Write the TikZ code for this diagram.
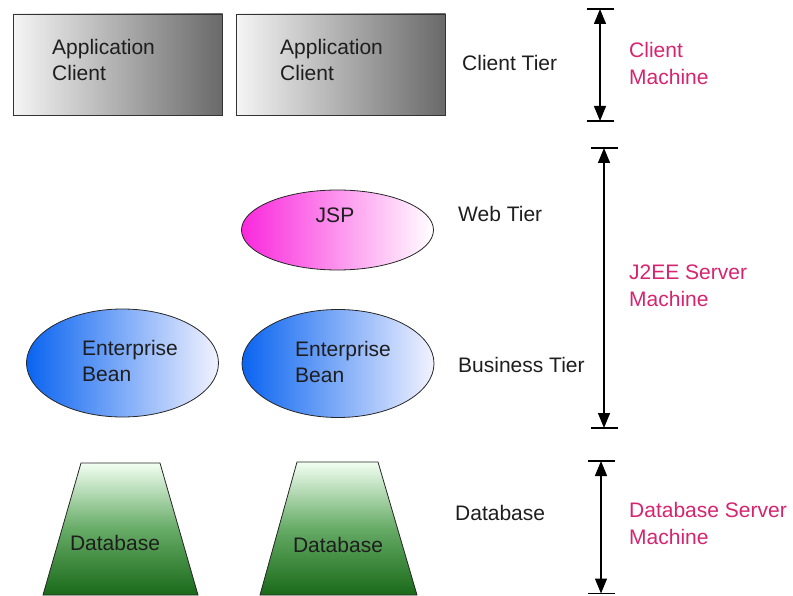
\documentclass[tikz,border=0pt]{standalone}
\usepackage{fontspec}
\setmainfont{Liberation Sans}
\usetikzlibrary{shapes.geometric,arrows.meta}
\definecolor{txt}{RGB}{30,30,30}
\definecolor{machine}{RGB}{214,36,110}
\definecolor{boxdark}{RGB}{105,105,105}
\definecolor{jspmag}{RGB}{250,40,220}
\definecolor{beanblue}{RGB}{10,100,240}
\definecolor{dbgreen}{RGB}{25,105,25}
\tikzset{
  txtfont/.style={font=\fontsize{21}{26}\selectfont, text=txt},
  clientbox/.style={draw=black!80, line width=0.8pt, rectangle, minimum height=101pt,
    minimum width=209pt, left color=white!96!black, right color=boxdark},
  inlabel/.style={anchor=west, inner sep=0pt, align=left, txtfont},
  jspshape/.style={draw=black!85, line width=0.8pt, ellipse, minimum width=192pt,
    minimum height=80pt, left color=jspmag, right color=white},
  beanshape/.style={draw=black!85, line width=0.8pt, ellipse, minimum width=192pt,
    minimum height=108pt, left color=beanblue, right color=white!95!blue},
  dbshape/.style={draw=black!85, line width=0.8pt, top color=white!95!green, bottom color=dbgreen,
    middle color=green!45!black!60!white},
  tierlabel/.style={anchor=west, inner sep=0pt, txtfont},
  machinelabel/.style={anchor=west, inner sep=0pt, align=left,
    font=\fontsize{21}{27}\selectfont, text=machine},
  span/.style={line width=1.3pt, {Triangle[width=12pt,length=15pt]}-{Triangle[width=12pt,length=15pt]}},
  bar/.style={line width=1.3pt},
}
\begin{document}
\begin{tikzpicture}[x=1pt,y=-1pt]
\useasboundingbox (0,0) rectangle (793,596);

% client tier
\node[clientbox] (app1) at (118,64.5) {};
\node[inlabel] (app1t) at (52,60) {Application\\Client};
\node[clientbox] (app2) at (341,64.5) {};
\node[inlabel] (app2t) at (280,60) {Application\\Client};

% web tier
\node[jspshape] (jsp) at (337.5,230) {};
\node[txtfont, inner sep=0pt] (jspt) at (335,215) {JSP};

% business tier
\node[beanshape] (bean1) at (122.5,363) {};
\node[inlabel] (bean1t) at (82,361) {Enterprise\\Bean};
\node[beanshape] (bean2) at (338,363.5) {};
\node[inlabel] (bean2t) at (295,362) {Enterprise\\Bean};

% database tier
\shade[dbshape] (81,463) -- (160,463) -- (198,595) -- (43,595) -- cycle;
\node[txtfont] (db1) at (115,543) {Database};
\shade[dbshape] (297,462) -- (378,462) -- (417,595) -- (260,595) -- cycle;
\node[txtfont] (db2) at (338,545) {Database};

% tier labels
\node[tierlabel] (ctier) at (462,63) {Client Tier};
\node[tierlabel] (wtier) at (458,214) {Web Tier};
\node[tierlabel] (btier) at (458,365) {Business Tier};
\node[tierlabel] (dtier) at (455,513) {Database};

% machine extents
\coordinate (m1t) at (600,9);   \coordinate (m1b) at (600,121);
\coordinate (m2t) at (604,148); \coordinate (m2b) at (604,428);
\coordinate (m3t) at (601,461); \coordinate (m3b) at (601,593.5);
\foreach \c in {m1t,m1b,m2t,m2b,m3t,m3b}
  \draw[bar] ([xshift=-13.5pt]\c) -- ([xshift=13.5pt]\c);
\draw[span] (m1t) -- (m1b);
\draw[span] (m2t) -- (m2b);
\draw[span] (m3t) -- (m3b);

% machine labels
\node[machinelabel] (cm) at (629,63) {Client\\Machine};
\node[machinelabel] (jm) at (629,286) {J2EE Server\\Machine};
\node[machinelabel] (dm) at (629,523) {Database Server\\Machine};
\end{tikzpicture}
\end{document}
